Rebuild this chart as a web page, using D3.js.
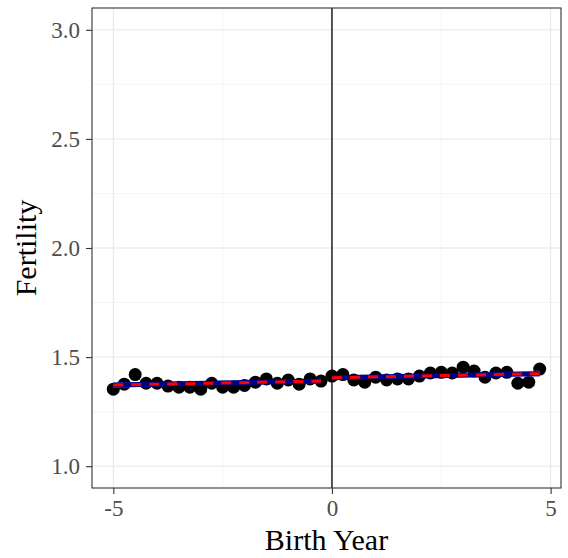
<!DOCTYPE html>
<html>
<head>
<meta charset="utf-8">
<script src="https://cdn.jsdelivr.net/npm/d3@7"></script>
<style>
  body { margin: 0; background: #fff; }
  svg text { font-family: "Liberation Serif", "DejaVu Serif", serif; }
</style>
</head>
<body>
<div id="chart"></div>
<script>
// birth year (relative) and fertility points
const birthYears = [-5, -4.75, -4.5, -4.25, -4, -3.75, -3.5, -3.25, -3, -2.75,
  -2.5, -2.25, -2, -1.75, -1.5, -1.25, -1, -0.75, -0.5, -0.25,
  0, 0.25, 0.5, 0.75, 1, 1.25, 1.5, 1.75, 2, 2.25,
  2.5, 2.75, 3, 3.25, 3.5, 3.75, 4, 4.25, 4.5, 4.75];
const fertility = [1.353, 1.376, 1.42, 1.38, 1.38, 1.367, 1.362, 1.362, 1.353, 1.38,
  1.362, 1.362, 1.37, 1.385, 1.40, 1.38, 1.395, 1.376, 1.40, 1.39,
  1.413, 1.42, 1.395, 1.385, 1.408, 1.395, 1.40, 1.40, 1.413, 1.427,
  1.43, 1.427, 1.454, 1.436, 1.408, 1.427, 1.43, 1.38, 1.385, 1.445];

// linear fits either side of the cutoff: [x, fit, lower, upper]
const fitLeft = [[-5, 1.372, 1.358, 1.386], [-2.6, 1.381, 1.376, 1.386], [-0.25, 1.390, 1.379, 1.401]];
const fitRight = [[0, 1.405, 1.394, 1.416], [2.4, 1.415, 1.410, 1.420], [4.75, 1.424, 1.410, 1.438]];

const xTicks = [-5, 0, 5];
const xMinor = [-2.5, 2.5];
const yTicks = [1.0, 1.5, 2.0, 2.5, 3.0];
const yMinor = [1.25, 1.75, 2.25, 2.75];

const W = 568, H = 558;
const margin = { top: 8, right: 7, bottom: 70, left: 92 };
const width = W - margin.left - margin.right;
const height = H - margin.top - margin.bottom;

const svg = d3.select("#chart").append("svg")
  .attr("width", W)
  .attr("height", H);

const g = svg.append("g")
  .attr("transform", "translate(" + margin.left + "," + margin.top + ")");

const x = d3.scaleLinear().domain([-5.4875, 5.2375]).range([0, width]);
const y = d3.scaleLinear().domain([0.9, 3.1]).range([height, 0]);

// grid
g.selectAll(".xminor").data(xMinor).enter().append("line")
  .attr("x1", d => x(d)).attr("x2", d => x(d))
  .attr("y1", 0).attr("y2", height)
  .attr("stroke", "#f2f2f2").attr("stroke-width", 0.8);
g.selectAll(".yminor").data(yMinor).enter().append("line")
  .attr("y1", d => y(d)).attr("y2", d => y(d))
  .attr("x1", 0).attr("x2", width)
  .attr("stroke", "#f2f2f2").attr("stroke-width", 0.8);
g.selectAll(".xmajor").data(xTicks).enter().append("line")
  .attr("x1", d => x(d)).attr("x2", d => x(d))
  .attr("y1", 0).attr("y2", height)
  .attr("stroke", "#ebebeb").attr("stroke-width", 1.3);
g.selectAll(".ymajor").data(yTicks).enter().append("line")
  .attr("y1", d => y(d)).attr("y2", d => y(d))
  .attr("x1", 0).attr("x2", width)
  .attr("stroke", "#ebebeb").attr("stroke-width", 1.3);

// cutoff line
g.append("line")
  .attr("x1", x(0)).attr("x2", x(0))
  .attr("y1", 0).attr("y2", height)
  .attr("stroke", "black").attr("stroke-width", 1.3);

const pts = birthYears.map((b, i) => ({ b: b, f: fertility[i] }));

// points
g.selectAll(".dot").data(pts).enter().append("circle")
  .attr("class", "dot")
  .attr("cx", d => x(d.b))
  .attr("cy", d => y(d.f))
  .attr("r", 6.5)
  .attr("fill", "black");

// fitted lines with ribbons
const area = d3.area()
  .x(d => x(d[0]))
  .y0(d => y(d[2]))
  .y1(d => y(d[3]));
const line = d3.line()
  .x(d => x(d[0]))
  .y(d => y(d[1]));

[fitLeft, fitRight].forEach(f => {
  g.append("path").datum(f)
    .attr("d", area)
    .attr("fill", "#8080ff").attr("fill-opacity", 0.55);
  g.append("path").datum(f)
    .attr("d", line)
    .attr("fill", "none")
    .attr("stroke", "#00008b").attr("stroke-width", 5);
  g.append("path").datum(f)
    .attr("d", line)
    .attr("fill", "none")
    .attr("stroke", "red").attr("stroke-width", 3)
    .attr("stroke-dasharray", "10,8");
});

// panel border
g.append("rect")
  .attr("width", width).attr("height", height)
  .attr("fill", "none")
  .attr("stroke", "#333333").attr("stroke-width", 1.1);

// axes
const xAxis = g.append("g")
  .attr("transform", "translate(0," + height + ")")
  .call(d3.axisBottom(x).tickValues(xTicks).tickSize(6).tickPadding(6).tickFormat(d3.format("d")));
const yAxis = g.append("g")
  .call(d3.axisLeft(y).tickValues(yTicks).tickSize(6).tickPadding(6).tickFormat(d3.format(".1f")));

[xAxis, yAxis].forEach(a => {
  a.select(".domain").remove();
  a.selectAll("line").attr("stroke", "#333333").attr("stroke-width", 1.1);
  a.selectAll("text")
    .attr("fill", "#4d4d4d")
    .style("font-size", "23px")
    .style("font-family", "'Liberation Serif', serif");
});
xAxis.selectAll("text").text(d => d < 0 ? "-" + Math.abs(d) : d);

// axis titles
svg.append("text")
  .attr("x", margin.left + width / 2)
  .attr("y", 550)
  .attr("text-anchor", "middle")
  .style("font-size", "30px")
  .attr("fill", "black")
  .text("Birth Year");

svg.append("text")
  .attr("transform", "translate(36," + (margin.top + height / 2) + ") rotate(-90)")
  .attr("text-anchor", "middle")
  .style("font-size", "30px")
  .attr("fill", "black")
  .text("Fertility");
</script>
</body>
</html>
